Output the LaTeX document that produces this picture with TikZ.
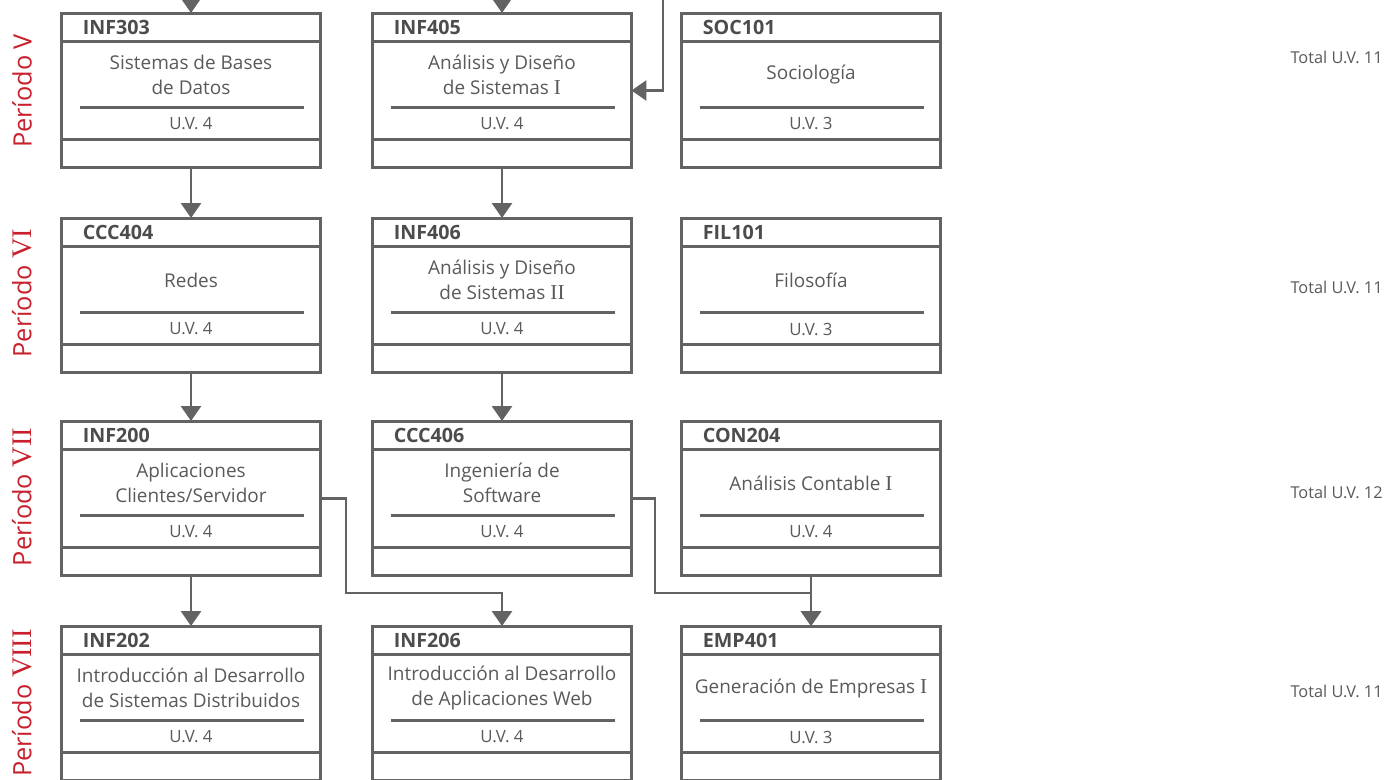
\documentclass[tikz,border=0pt]{standalone}
\usepackage{fontspec}
\setmainfont{Open Sans}
\newfontfamily\romano[Scale=1.12]{Liberation Serif}
\usetikzlibrary{arrows.meta,calc}
\definecolor{gris}{RGB}{99,99,99}
\definecolor{gristexto}{RGB}{90,90,90}
\definecolor{rojo}{RGB}{200,32,44}
\newcommand{\rom}[1]{{\romano #1}}
% caja de una materia: nombre, x centro, y superior, codigo, titulo, uv
\newcommand{\materia}[6]{%
	\node[caja] (#1) at (#2,#3+77.5) {};
	\draw[borde] ($(#1.north west)+(0,28)$) -- ($(#1.north east)+(0,28)$);
	\draw[borde] ($(#1.south west)+(0,-28)$) -- ($(#1.south east)+(0,-28)$);
	\draw[borde] ($(#1.north west)+(18,94)$) -- ($(#1.north east)+(-16,94)$);
	\node[codigo] (#1-cod) at ($(#1.north west)+(21,14)$) {#4};
	\node[titulo] (#1-tit) at ($(#1.north)+(0,62)$) {#5};
	\node[uv] (#1-uv) at ($(#1.north)+(0,111)$) {U.V. #6};
}
\tikzset{
	caja/.style={draw=gris,line width=1.7pt,minimum width=5.18cm,minimum height=3.1cm,inner sep=0pt,outer sep=0pt},
	borde/.style={draw=gris,line width=1.7pt},
	codigo/.style={anchor=west,inner sep=0pt,text=gristexto!85!black,font=\fontsize{11.2}{12}\selectfont\bfseries},
	titulo/.style={align=center,inner sep=0pt,text=gristexto,font=\fontsize{10.8}{14.2}\selectfont},
	uv/.style={inner sep=0pt,text=gristexto,font=\fontsize{9.6}{11}\selectfont},
	periodo/.style={rotate=90,inner sep=0pt,text=rojo,font=\fontsize{14.4}{16}\selectfont},
	total/.style={anchor=east,inner sep=0pt,text=gristexto,font=\fontsize{9.3}{11}\selectfont},
	flecha/.style={draw=gris,line width=1.6pt,-{Triangle[width=0.4cm,length=0.3cm]}},
}
\begin{document}
\begin{tikzpicture}[x=0.02cm,y=-0.02cm]
	\useasboundingbox[fill=white] (0,0) rectangle (1386,780);
	\clip (0,0) rectangle (1386,780);
	% periodos
	\node[periodo] (p5) at (22,91) {Período V};
	\node[periodo] (p6) at (22,293) {Período \rom{VI}};
	\node[periodo] (p7) at (22,497) {Período \rom{VII}};
	\node[periodo] (p8) at (22,703) {Período \rom{VIII}};
	% materias
	\materia{inf303}{191}{13}{INF303}{Sistemas de Bases\\de Datos}{4}
	\materia{inf405}{502}{13}{INF405}{Análisis y Diseño\\de Sistemas \rom{I}}{4}
	\materia{soc101}{811}{13}{SOC101}{Sociología}{3}
	\materia{ccc404}{191}{218}{CCC404}{Redes}{4}
	\materia{inf406}{502}{218}{INF406}{Análisis y Diseño\\de Sistemas \rom{II}}{4}
	\materia{fil101}{811}{218}{FIL101}{Filosofía}{3}
	\materia{inf200}{191}{421}{INF200}{Aplicaciones\\Clientes/Servidor}{4}
	\materia{ccc406}{502}{421}{CCC406}{Ingeniería de\\Software}{4}
	\materia{con204}{811}{421}{CON204}{Análisis Contable \rom{I}}{4}
	\materia{inf202}{191}{626}{INF202}{Introducción al Desarrollo\\de Sistemas Distribuidos}{4}
	\materia{inf206}{502}{626}{INF206}{Introducción al Desarrollo\\de Aplicaciones Web}{4}
	\materia{emp401}{811}{626}{EMP401}{Generación de Empresas \rom{I}}{3}
	% totales
	\node[total] (t5) at (1383,57) {Total U.V. 11};
	\node[total] (t6) at (1383,287) {Total U.V. 11};
	\node[total] (t7) at (1383,492) {Total U.V. 12};
	\node[total] (t8) at (1383,691) {Total U.V. 11};
	% prelaciones
	\coordinate (e1) at (191,-10);
	\coordinate (e2) at (502,-10);
	\coordinate (e3) at (663,-10);
	\coordinate (m1) at (346,593);
	\coordinate (m2) at (655,593);
	\draw[flecha] (e1) -- (inf303.north);
	\draw[flecha] (e2) -- (inf405.north);
	\draw[flecha] (e3) |- (inf405.east);
	\draw[flecha] (inf303.south) -- (ccc404.north);
	\draw[flecha] (inf405.south) -- (inf406.north);
	\draw[flecha] (ccc404.south) -- (inf200.north);
	\draw[flecha] (inf406.south) -- (ccc406.north);
	\draw[flecha] (inf200.south) -- (inf202.north);
	\draw[flecha] (inf200.east) -| (m1) -| (inf206.north);
	\draw[flecha] (ccc406.east) -| (m2) -| (emp401.north);
	\draw[flecha] (con204.south) -- (emp401.north);
\end{tikzpicture}
\end{document}
